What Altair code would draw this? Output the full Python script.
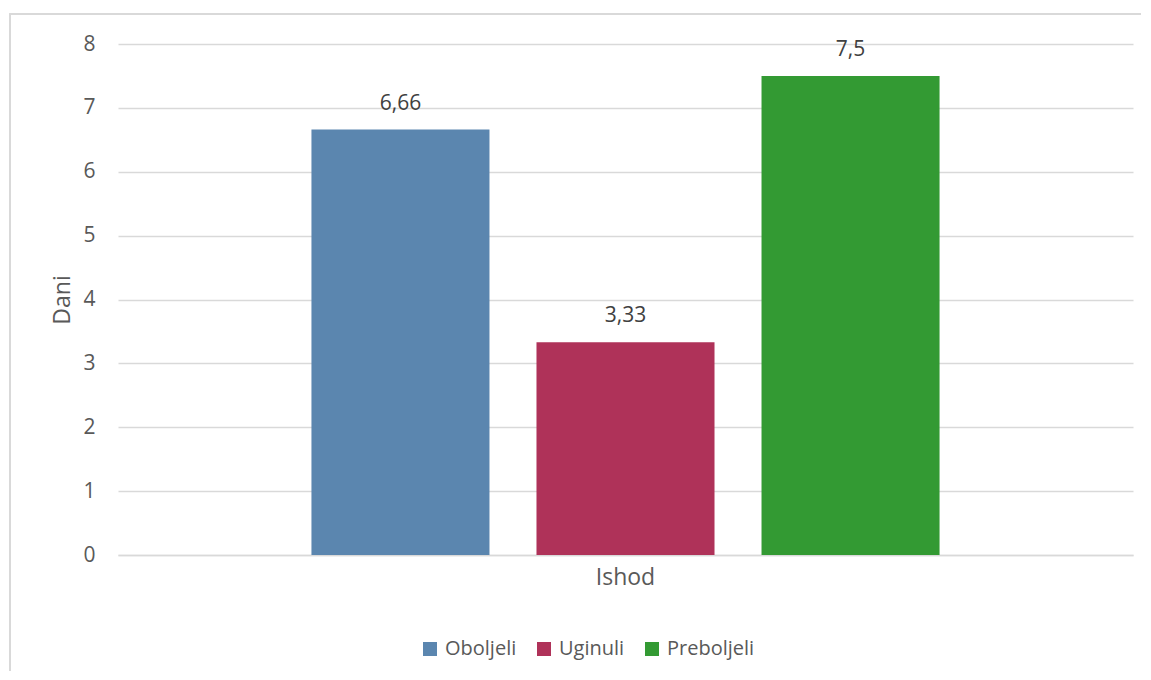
import altair as alt
import pandas as pd

categories = ["Ishod", "Ishod", "Ishod"]
series = ["Oboljeli", "Uginuli", "Preboljeli"]
values = [6.66, 3.33, 7.5]
labels = ["6,66", "3,33", "7,5"]
colors = ["#5B86AF", "#AF3259", "#339A33"]

df = pd.DataFrame({"kat": categories, "serija": series, "dani": values, "oznaka": labels})

FONT = "Open Sans"
W, H = 1015, 511

xenc = alt.X("kat:N", title=None,
             scale=alt.Scale(paddingInner=0, paddingOuter=0.308),
             axis=alt.Axis(labelAngle=0, labelFontSize=23, labelColor="#595959",
                           labelFont=FONT, ticks=False, domain=True,
                           domainColor="#D9D9D9", domainWidth=1.5, labelPadding=11))
xoff = alt.XOffset("serija:N", sort=series,
                   scale=alt.Scale(paddingInner=0.2089, paddingOuter=0))

border = alt.Chart(df).mark_rect(fillOpacity=0, stroke="#D9D9D9", strokeWidth=1.5).encode(
    x=alt.value(-108), x2=alt.value(W + 40), y=alt.value(-30), y2=alt.value(H + 200)
)

bars = alt.Chart(df).mark_bar().encode(
    x=xenc,
    xOffset=xoff,
    y=alt.Y("dani:Q", title="Dani",
            scale=alt.Scale(domain=[0, 8]),
            axis=alt.Axis(values=[0, 1, 2, 3, 4, 5, 6, 7, 8], format="d", labelFontSize=21,
                          labelColor="#595959", labelFont=FONT, ticks=False, domain=False,
                          grid=True, gridColor="#D9D9D9", gridWidth=1.5, labelPadding=23,
                          titleFont=FONT, titleFontSize=23, titleFontWeight="normal",
                          titleColor="#595959", titlePadding=8)),
    color=alt.Color("serija:N", sort=series,
                    scale=alt.Scale(domain=series, range=colors),
                    legend=alt.Legend(title=None, orient="none", direction="horizontal",
                                      legendX=302, legendY=595, symbolType="square",
                                      symbolSize=196, symbolStrokeWidth=0,
                                      labelFont=FONT, labelFontSize=20,
                                      labelColor="#595959", columnPadding=17,
                                      symbolOffset=0, labelOffset=5)),
)

text = alt.Chart(df).mark_text(baseline="middle", dy=-26, fontSize=21, font=FONT,
                               color="#404040").encode(
    x=xenc,
    xOffset=xoff,
    y=alt.Y("dani:Q"),
    text="oznaka:N",
)

chart = alt.layer(border, bars, text).properties(
    width=W, height=H,
    autosize=alt.AutoSizeParams(type="none"),
    padding={"left": 110, "top": 36, "right": 8, "bottom": 116},
).configure_view(stroke=None)

chart.save("out.html", embed_options={"renderer": "svg", "actions": False})
